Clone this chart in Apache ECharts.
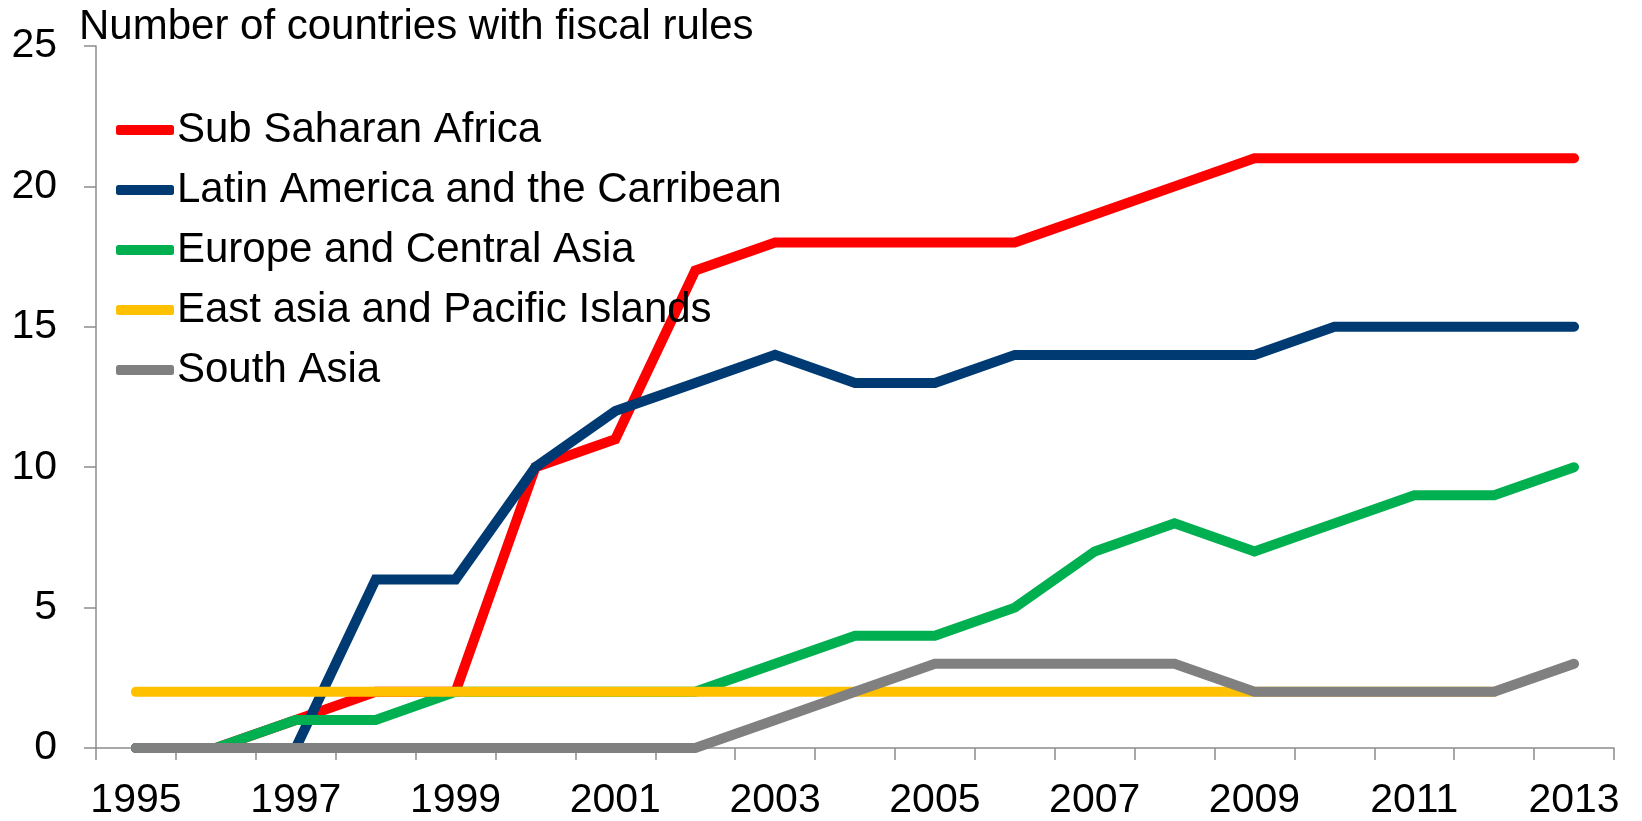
<!DOCTYPE html>
<html>
<head>
<meta charset="utf-8">
<script src="https://cdn.jsdelivr.net/npm/echarts@6/dist/echarts.min.js"></script>
<style>
  html, body { margin: 0; padding: 0; background: #fff; }
  #chart { width: 1642px; height: 821px; }
</style>
</head>
<body>
<div id="chart"></div>
<script>
// Years on the horizontal axis
const years = ['1995','1996','1997','1998','1999','2000','2001','2002','2003','2004',
               '2005','2006','2007','2008','2009','2010','2011','2012','2013'];

// Number of countries with fiscal rules, by region
const subSaharanAfrica = [0,0,1,2,2,10,11,17,18,18,18,18,19,20,21,21,21,21,21];
const latinAmerica     = [0,0,0,6,6,10,12,13,14,13,13,14,14,14,14,15,15,15,15];
const europeCentralAsia= [0,0,1,1,2,2,2,2,3,4,4,5,7,8,7,8,9,9,10];
const eastAsiaPacific  = [2,2,2,2,2,2,2,2,2,2,2,2,2,2,2,2,2,2,null];
const southAsia        = [0,0,0,0,0,0,0,0,1,2,3,3,3,3,2,2,2,2,3];

const seriesNames = ['Sub Saharan Africa','Latin America and the Carribean',
                     'Europe and Central Asia','East asia and Pacific Islands','South Asia'];
const seriesColors = ['#FF0000','#003A73','#00B050','#FFC000','#808080'];
const seriesData = [subSaharanAfrica, latinAmerica, europeCentralAsia, eastAsiaPacific, southAsia];

const FONT = "'Liberation Sans', Arial, sans-serif";
const AXIS_GRAY = '#8C8C8C';

const chart = echarts.init(document.getElementById('chart'), null, { renderer: 'canvas' });

chart.setOption({
  animation: false,
  backgroundColor: '#ffffff',
  textStyle: { fontFamily: FONT, color: '#000' },
  title: {
    text: 'Number of countries with fiscal rules',
    left: 79,
    top: 6,
    padding: 0,
    textStyle: { fontFamily: FONT, fontSize: 42, fontWeight: 'normal', color: '#000' }
  },
  legend: {
    orient: 'vertical',
    left: 116,
    top: 106,
    padding: 0,
    icon: 'roundRect',
    itemWidth: 58,
    itemHeight: 10,
    itemGap: 12,
    textStyle: { fontFamily: FONT, fontSize: 42, color: '#000', lineHeight: 48, padding: [0, 0, 0, -2] },
    data: seriesNames
  },
  grid: { left: 96, right: 28, top: 46, bottom: 70 },
  xAxis: {
    type: 'category',
    data: years,
    boundaryGap: true,
    axisLine: { lineStyle: { color: AXIS_GRAY, width: 1.5 } },
    axisTick: { show: true, interval: 0, length: 12, lineStyle: { color: AXIS_GRAY, width: 1.5 } },
    axisLabel: { interval: 1, margin: 32, fontFamily: FONT, fontSize: 41, color: '#000' },
    splitLine: { show: false }
  },
  yAxis: {
    type: 'value',
    min: 0,
    max: 25,
    interval: 5,
    axisLine: { show: true, lineStyle: { color: AXIS_GRAY, width: 1.5 } },
    axisTick: { show: true, length: 12, lineStyle: { color: AXIS_GRAY, width: 1.5 } },
    axisLabel: { margin: 39, fontFamily: FONT, fontSize: 41, color: '#000' },
    splitLine: { show: false }
  },
  series: seriesNames.map((name, i) => ({
    name: name,
    type: 'line',
    data: seriesData[i],
    showSymbol: false,
    symbol: 'none',
    color: seriesColors[i],
    lineStyle: { width: 10, color: seriesColors[i], cap: 'round', join: 'miter' },
    z: 2 + i
  }))
});
</script>
</body>
</html>
